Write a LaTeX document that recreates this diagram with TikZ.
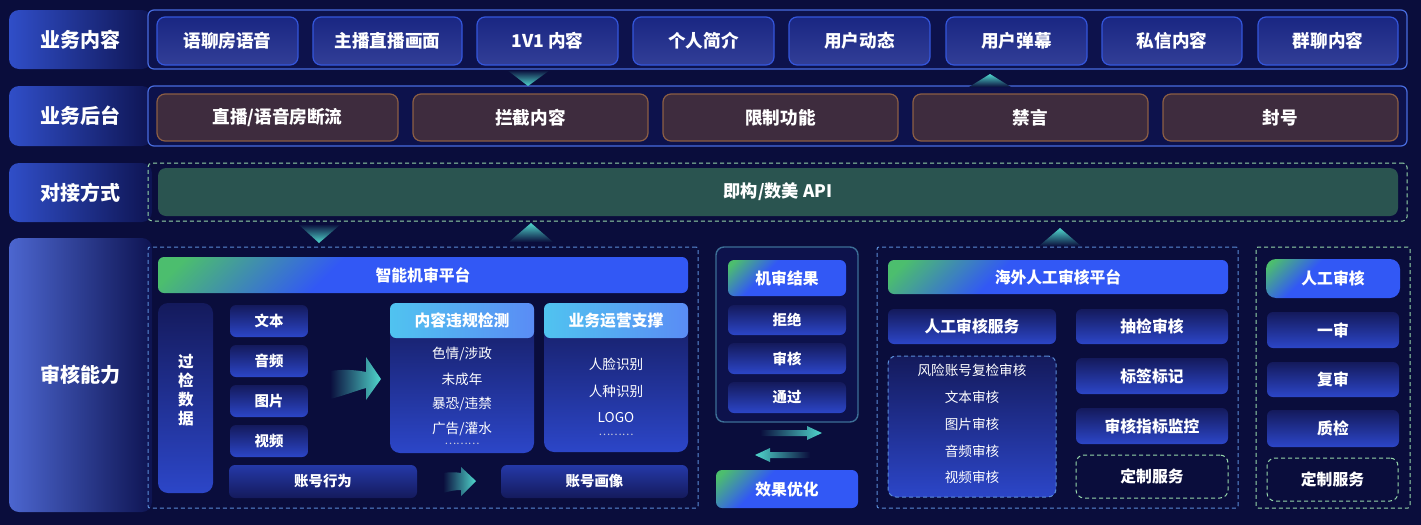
\documentclass[tikz,border=0pt]{standalone}
\usepackage{fontspec}
\setmainfont{Noto Sans CJK SC}
\usetikzlibrary{shadings}
\definecolor{bg}{RGB}{10,13,60}
\definecolor{bgin}{RGB}{13,18,76}
\definecolor{labA}{RGB}{48,78,200}
\definecolor{labB}{RGB}{14,20,82}
\definecolor{contB}{RGB}{72,108,222}
\definecolor{itemF}{RGB}{28,42,140}
\definecolor{itemB}{RGB}{52,86,220}
\definecolor{brF}{RGB}{62,44,62}
\definecolor{brB}{RGB}{140,94,68}
\definecolor{apiF}{RGB}{42,84,80}
\definecolor{dgreen}{RGB}{150,215,170}
\definecolor{dblue}{RGB}{90,140,215}
\definecolor{gtop}{RGB}{20,26,92}
\definecolor{gbot}{RGB}{44,70,200}
\definecolor{hgreen}{RGB}{76,190,110}
\definecolor{hblue}{RGB}{50,88,245}
\definecolor{lbA}{RGB}{80,195,240}
\definecolor{lbB}{RGB}{90,140,245}
\definecolor{cyanA}{RGB}{80,215,205}
\definecolor{resB}{RGB}{60,110,150}
\pgfdeclarehorizontalshading{gb}{100bp}{color(0bp)=(hgreen); color(18bp)=(hgreen); color(38bp)=(hblue); color(100bp)=(hblue)}
\newcommand\bx[7]{\node[inner sep=0pt, outer sep=0pt, minimum width={(#4-#2)*0.5pt}, minimum height={(#5-#3)*0.5pt}, #6] (#1) at ({(#2+#4)/2},{(#3+#5)/2}) {#7};}
\begin{document}
\begin{tikzpicture}[x=0.5pt,y=-0.5pt,
  lab/.style={rounded corners=5pt, left color=labA, right color=labB, text=white, font=\bfseries\fontsize{10}{12}\selectfont},
  cont/.style={draw=contB, line width=0.6pt, rounded corners=3pt, fill=bgin},
  itm/.style={top color=itemF!85!bgin, bottom color=itemF!90!white!95!itemF, draw=itemB, line width=0.6pt, rounded corners=4pt, text=white, font=\bfseries\fontsize{8.8}{10}\selectfont},
  brn/.style={fill=brF, draw=brB, line width=0.6pt, rounded corners=4pt, text=white, font=\bfseries\fontsize{8.8}{10}\selectfont},
  dashg/.style={draw=dgreen, dash pattern=on 2pt off 1.5pt, line width=0.5pt, rounded corners=3pt},
  dashb/.style={draw=dblue, dash pattern=on 2pt off 1.5pt, line width=0.5pt, rounded corners=3pt},
  grad/.style={rounded corners=3pt, top color=gtop, bottom color=gbot, text=white},
  hdr/.style={rounded corners=3pt, shade, shading=gb, shading angle=-45, text=white, font=\bfseries\fontsize{7.9}{9}\selectfont},
  lhdr/.style={rounded corners=3pt, left color=lbA, right color=lbB, text=white, font=\bfseries\fontsize{7.9}{9}\selectfont},
  tb/.style={font=\bfseries\fontsize{7.9}{9}\selectfont},
  ts/.style={font=\bfseries\fontsize{7.2}{9}\selectfont},
  tl/.style={text=white, inner sep=0pt, font=\fontsize{6.8}{8}\selectfont},
  dots/.style={text=white!80!bg, inner sep=0pt, font=\fontsize{5.5}{6}\selectfont},
]
\fill[bg] (0,0) rectangle (1421,525);
\useasboundingbox (0,0) rectangle (1421,525);

% ---------- Row 1 ----------
\bx{l1}{9}{10}{152}{69}{lab}{业务内容}
\bx{c1}{148}{10}{1407}{69}{cont}{}
\bx{a1}{157}{17}{298}{65}{itm}{语聊房语音}
\bx{a2}{313}{17}{462}{65}{itm}{主播直播画面}
\bx{a3}{477}{17}{618}{65}{itm}{1V1 内容}
\bx{a4}{633}{17}{774}{65}{itm}{个人简介}
\bx{a5}{789}{17}{930}{65}{itm}{用户动态}
\bx{a6}{946}{17}{1087}{65}{itm}{用户弹幕}
\bx{a7}{1102}{17}{1242}{65}{itm}{私信内容}
\bx{a8}{1258}{17}{1398}{65}{itm}{群聊内容}

% ---------- Row 2 ----------
\bx{l2}{9}{86}{152}{146}{lab}{业务后台}
\bx{c2}{148}{86}{1407}{146}{cont}{}
\bx{b1}{157}{94}{398}{141}{brn}{直播/语音房断流}
\bx{b2}{413}{94}{648}{141}{brn}{拦截内容}
\bx{b3}{663}{94}{898}{141}{brn}{限制功能}
\bx{b4}{913}{94}{1148}{141}{brn}{禁言}
\bx{b5}{1163}{94}{1398}{141}{brn}{封号}

% triangles rows 1-2
\shade[top color=bg, bottom color=cyanA] (507,70) -- (550,70) -- (528,86) -- cycle;
\shade[top color=cyanA, bottom color=bg] (990,74) -- (1011,87) -- (969,87) -- cycle;

% ---------- Row 3 ----------
\bx{l3}{9}{163}{152}{222}{lab}{对接方式}
\bx{c3}{148}{163}{1407}{221}{dashg,rounded corners=2pt}{}
\bx{api}{158}{168}{1398}{216}{fill=apiF, rounded corners=4pt, text=white, font=\bfseries\fontsize{8.6}{10}\selectfont}{即构/数美 API}

% triangles rows 3-4
\shade[top color=bg, bottom color=cyanA] (298,224) -- (341,224) -- (319,243) -- cycle;
\shade[top color=cyanA, bottom color=bg] (531,223) -- (553,242) -- (509,242) -- cycle;
\shade[top color=cyanA, bottom color=bg] (1060,228) -- (1081,246) -- (1039,246) -- cycle;

% ---------- Row 4 ----------
\bx{l4}{9}{238}{152}{512}{lab, left color=labA!85!white!90!labA}{审核能力}

% machine review platform
\bx{mc}{148}{247}{698}{508}{dashb,rounded corners=1pt}{}
\bx{mh}{158}{257}{688}{293}{hdr}{智能机审平台}
\bx{gj}{158}{303}{213}{493}{grad, rounded corners=5pt}{}
\node[text=white, align=center, font=\bfseries\fontsize{7.8}{9.6}\selectfont] (gjt) at (186,390) {过\\检\\数\\据};
\bx{d1}{230}{305}{308}{337}{grad, ts}{文本}
\bx{d2}{230}{345}{308}{377}{grad, ts}{音频}
\bx{d3}{230}{385}{308}{417}{grad, ts}{图片}
\bx{d4}{230}{425}{308}{457}{grad, ts}{视频}

\shade[left color=bg, right color=cyanA] (330,371) .. controls (345,369) and (356,370) .. (366,372) -- (366,357) -- (381,379) -- (366,400) -- (366,388) .. controls (355,391) and (343,396) .. (330,399) -- cycle;

\bx{nb}{390}{303}{534}{453}{grad, rounded corners=5pt}{}
\bx{nh}{390}{303}{534}{338}{lhdr}{内容违规检测}
\node[tl] (n1) at (462,354) {色情/涉政};
\node[tl] (n2) at (462,379) {未成年};
\node[tl] (n3) at (462,404) {暴恐/违禁};
\node[tl] (n4) at (462,429) {广告/灌水};
\node[dots] (n5) at (462,444) {………};

\bx{yb}{544}{303}{688}{452}{grad, rounded corners=5pt}{}
\bx{yh}{544}{303}{688}{338}{lhdr}{业务运营支撑}
\node[tl] (y1) at (616,364) {人脸识别};
\node[tl] (y2) at (616,391) {人种识别};
\node[tl] (y3) at (616,418) {LOGO};
\node[dots] (y4) at (616,435) {………};

\bx{zh}{229}{465}{417}{498}{grad, ts, top color=gbot!70!gtop, bottom color=gtop}{账号行为}
\shade[left color=bg, right color=cyanA] (443,473) .. controls (450,472) and (455,472) .. (461,473) -- (461,467) -- (476,481) -- (461,496) -- (461,490) .. controls (455,490) and (450,491) .. (443,493) -- cycle;
\bx{zx}{501}{465}{688}{498}{grad, ts, top color=gbot!70!gtop, bottom color=gtop}{账号画像}

% machine results
\bx{rc}{716}{247}{858}{422}{draw=resB, line width=0.7pt, rounded corners=4pt, fill=bgin}{}
\bx{rh}{728}{260}{846}{296}{hdr}{机审结果}
\bx{r1}{728}{305}{846}{335}{grad, ts}{拒绝}
\bx{r2}{728}{343}{846}{374}{grad, ts}{审核}
\bx{r3}{728}{382}{846}{413}{grad, ts}{通过}
\shade[left color=bg, right color=cyanA] (760,430) -- (807,430) -- (807,426) -- (822,433) -- (807,440) -- (807,436) -- (760,436) -- cycle;
\shade[left color=cyanA, right color=bg] (810,452) -- (770,452) -- (770,448) -- (755,455) -- (770,462) -- (770,458) -- (810,458) -- cycle;
\bx{xg}{716}{470}{858}{508}{hdr}{效果优化}

% overseas manual review
\bx{hc}{877}{247}{1238}{508}{dashb,rounded corners=1pt}{}
\bx{hh}{888}{260}{1228}{294}{hdr}{海外人工审核平台}
\bx{h1}{888}{309}{1056}{344}{grad, tb}{人工审核服务}
\bx{hd}{888}{356}{1056}{497}{grad, dashb, rounded corners=4pt}{}
\node[tl] (hd1) at (972,370) {风险账号复检审核};
\node[tl] (hd2) at (972,397) {文本审核};
\node[tl] (hd3) at (972,424) {图片审核};
\node[tl] (hd4) at (972,451) {音频审核};
\node[tl] (hd5) at (972,477) {视频审核};
\bx{h2}{1076}{309}{1228}{344}{grad, tb}{抽检审核}
\bx{h3}{1076}{358}{1228}{394}{grad, tb}{标签标记}
\bx{h4}{1076}{408}{1228}{444}{grad, tb}{审核指标监控}
\bx{h5}{1076}{455}{1228}{498}{dashg, rounded corners=4pt, fill=bg, text=white, tb}{定制服务}

% manual review
\bx{pc}{1256}{247}{1410}{508}{dashg,rounded corners=1pt}{}
\bx{ph}{1266}{259}{1400}{298}{hdr, rounded corners=5pt}{人工审核}
\bx{p1}{1267}{312}{1399}{348}{grad, tb}{一审}
\bx{p2}{1267}{362}{1399}{397}{grad, tb}{复审}
\bx{p3}{1267}{410}{1399}{447}{grad, tb}{质检}
\bx{p4}{1267}{458}{1398}{501}{dashg, rounded corners=4pt, fill=bg, text=white, tb}{定制服务}
\end{tikzpicture}
\end{document}
